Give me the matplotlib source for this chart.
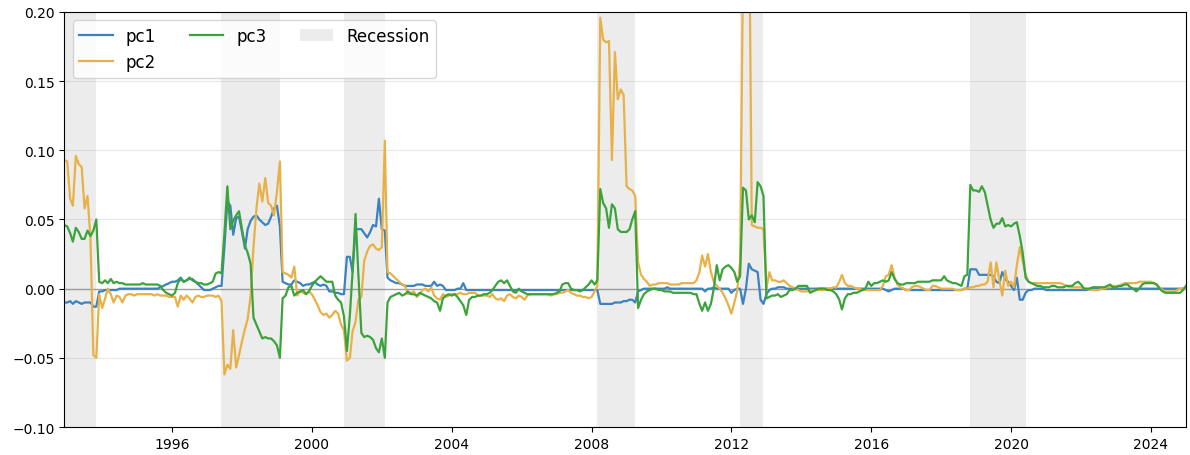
import matplotlib
matplotlib.use("Agg")
import matplotlib.pyplot as plt
import matplotlib.dates as mdates
import pandas as pd

# monthly principal component scores, 1992-12 .. 2025-01
pc1 = [
    -0.010,  # 1992-12
    -0.010, -0.009, -0.011, -0.009, -0.010, -0.011, -0.010, -0.010, -0.010, -0.013, -0.013, -0.002,  # 1993
    -0.002, -0.001, -0.001, -0.001, -0.001, -0.001, 0.000, 0.000, 0.000, 0.000, 0.000, 0.000,  # 1994
    0.000, 0.000, 0.000, 0.000, 0.000, 0.000, 0.000, 0.000, 0.001, 0.002, 0.003, 0.004,  # 1995
    0.005, 0.005, 0.006, 0.008, 0.005, 0.006, 0.007, 0.007, 0.005, 0.003, 0.001, -0.001,  # 1996
    -0.001, -0.001, 0.000, 0.001, 0.002, 0.002, 0.030, 0.063, 0.060, 0.039, 0.051, 0.052,  # 1997
    0.041, 0.029, 0.043, 0.049, 0.052, 0.053, 0.050, 0.048, 0.046, 0.047, 0.052, 0.058,  # 1998
    0.060, 0.045, 0.005, 0.004, 0.003, 0.003, 0.006, 0.005, 0.004, 0.002, 0.003, 0.003,  # 1999
    0.004, 0.005, 0.003, 0.002, 0.003, 0.002, -0.002, -0.002, -0.003, -0.003, -0.004, -0.004,  # 2000
    0.023, 0.023, 0.012, 0.043, 0.043, 0.043, 0.040, 0.037, 0.041, 0.046, 0.045, 0.065,  # 2001
    0.043, 0.042, 0.008, 0.006, 0.005, 0.004, 0.004, 0.003, 0.002, 0.002, 0.002, 0.002,  # 2002
    0.003, 0.003, 0.003, 0.002, 0.002, 0.002, 0.005, 0.002, 0.003, 0.002, -0.001, -0.001,  # 2003
    -0.001, -0.001, 0.000, 0.000, 0.004, -0.001, -0.001, -0.001, -0.001, -0.001, -0.001, -0.001,  # 2004
    -0.001, -0.001, -0.001, -0.001, -0.001, -0.001, -0.001, -0.001, -0.001, -0.001, -0.001, -0.001,  # 2005
    -0.001, -0.001, -0.001, -0.001, -0.001, -0.001, -0.001, -0.001, -0.001, -0.001, -0.001, -0.001,  # 2006
    -0.001, -0.001, -0.001, -0.001, -0.001, -0.001, -0.001, -0.001, -0.001, -0.001, -0.001, -0.001,  # 2007
    -0.001, -0.001, -0.001, -0.011, -0.011, -0.011, -0.011, -0.011, -0.010, -0.010, -0.010, -0.009,  # 2008
    -0.009, -0.008, -0.008, -0.010, -0.002, -0.001, 0.000, 0.000, 0.000, 0.000, 0.000, 0.000,  # 2009
    0.000, 0.000, 0.001, 0.000, 0.000, 0.000, 0.000, 0.000, 0.000, 0.000, 0.000, 0.000,  # 2010
    0.000, 0.000, 0.000, -0.002, 0.000, 0.000, 0.001, 0.000, 0.000, 0.000, 0.000, 0.000,  # 2011
    -0.003, -0.001, 0.000, 0.000, -0.011, 0.000, 0.018, 0.014, 0.013, 0.012, -0.008, -0.011,  # 2012
    -0.004, -0.001, 0.000, 0.000, 0.001, 0.001, 0.001, 0.000, 0.000, 0.000, 0.000, 0.000,  # 2013
    0.000, 0.000, 0.000, 0.000, 0.000, 0.000, 0.000, 0.000, 0.000, 0.000, 0.000, 0.000,  # 2014
    0.000, 0.000, 0.000, 0.000, 0.000, 0.000, 0.000, 0.000, 0.000, 0.000, 0.000, 0.000,  # 2015
    0.000, 0.000, 0.000, 0.000, 0.000, -0.001, -0.002, -0.001, 0.000, 0.000, 0.000, 0.000,  # 2016
    -0.001, -0.001, -0.001, -0.001, -0.001, -0.001, -0.001, -0.001, -0.001, -0.001, -0.001, -0.001,  # 2017
    -0.001, -0.001, -0.001, -0.001, -0.001, -0.001, -0.001, -0.001, 0.000, 0.000, 0.014, 0.014,  # 2018
    0.014, 0.010, 0.010, 0.010, 0.010, 0.010, 0.009, 0.005, 0.004, 0.012, 0.007, 0.005,  # 2019
    0.002, -0.001, 0.008, -0.008, -0.008, -0.003, -0.001, -0.001, 0.000, 0.000, 0.000, 0.000,  # 2020
    -0.001, -0.001, -0.001, -0.001, -0.001, -0.001, -0.001, -0.001, -0.001, -0.001, -0.001, -0.001,  # 2021
    -0.001, -0.001, -0.001, 0.000, 0.000, 0.000, 0.000, 0.000, 0.000, 0.000, 0.000, 0.000,  # 2022
    0.000, 0.000, 0.000, 0.000, 0.000, 0.000, 0.000, 0.000, 0.000, 0.000, 0.000, 0.000,  # 2023
    0.000, 0.000, 0.000, 0.000, 0.000, 0.000, 0.000, 0.000, 0.000, 0.000, 0.000, 0.000,  # 2024
    0.000,  # 2025-01
]

pc2 = [
    0.093,  # 1992-12
    0.092, 0.065, 0.060, 0.096, 0.090, 0.088, 0.058, 0.067, 0.036, -0.048, -0.050, -0.004,  # 1993
    -0.014, -0.007, 0.000, -0.004, -0.010, -0.005, -0.006, -0.010, -0.005, -0.004, -0.004, -0.005,  # 1994
    -0.004, -0.004, -0.004, -0.004, -0.004, -0.004, -0.005, -0.004, -0.005, -0.005, -0.005, -0.006,  # 1995
    -0.006, -0.006, -0.013, -0.005, -0.008, -0.005, -0.007, -0.010, -0.006, -0.005, -0.006, -0.006,  # 1996
    -0.005, -0.005, -0.005, -0.006, -0.005, -0.009, -0.062, -0.055, -0.058, -0.030, -0.057, -0.048,  # 1997
    -0.038, -0.029, -0.022, -0.005, 0.030, 0.058, 0.076, 0.063, 0.080, 0.062, 0.060, 0.053,  # 1998
    0.070, 0.092, 0.012, 0.011, 0.010, 0.008, 0.016, -0.005, -0.002, -0.003, -0.004, -0.002,  # 1999
    -0.004, -0.008, -0.012, -0.017, -0.019, -0.018, -0.021, -0.019, -0.016, -0.018, -0.026, -0.030,  # 2000
    -0.052, -0.050, -0.031, -0.024, -0.008, -0.006, 0.020, 0.027, 0.031, 0.032, 0.029, 0.028,  # 2001
    0.030, 0.107, 0.012, 0.011, 0.009, 0.007, 0.005, 0.003, 0.002, -0.004, -0.003, -0.002,  # 2002
    -0.006, -0.004, -0.001, 0.000, -0.002, 0.001, -0.005, -0.007, -0.008, -0.004, -0.006, -0.005,  # 2003
    -0.004, -0.004, -0.004, -0.003, -0.004, -0.004, -0.003, -0.003, -0.003, -0.005, -0.005, -0.005,  # 2004
    -0.005, -0.006, -0.004, -0.007, -0.008, -0.007, -0.009, -0.005, -0.004, -0.006, -0.007, -0.005,  # 2005
    -0.006, -0.008, -0.005, -0.004, -0.004, -0.004, -0.004, -0.004, -0.004, -0.004, -0.005, -0.004,  # 2006
    -0.004, -0.003, -0.003, -0.002, -0.001, -0.003, -0.004, -0.005, -0.005, -0.006, -0.006, -0.007,  # 2007
    -0.006, -0.002, 0.002, 0.196, 0.180, 0.178, 0.179, 0.093, 0.171, 0.137, 0.144, 0.140,  # 2008
    0.074, 0.072, 0.071, 0.067, 0.019, 0.010, 0.007, 0.005, 0.002, 0.003, 0.003, 0.004,  # 2009
    0.004, 0.004, 0.004, 0.003, 0.003, 0.003, 0.003, 0.004, 0.004, 0.004, 0.004, 0.004,  # 2010
    0.006, 0.012, 0.024, 0.016, 0.025, 0.012, 0.005, 0.002, 0.000, -0.003, -0.007, -0.012,  # 2011
    -0.018, -0.010, -0.002, 0.020, 0.230, 0.260, 0.300, 0.046, 0.045, 0.044, 0.044, 0.043,  # 2012
    0.000, 0.012, 0.006, 0.006, 0.005, 0.005, 0.006, 0.004, 0.002, 0.001, 0.000, -0.001,  # 2013
    -0.002, -0.002, -0.002, -0.001, -0.001, -0.001, -0.001, -0.001, -0.001, 0.000, 0.000, 0.001,  # 2014
    0.001, 0.005, 0.010, 0.004, 0.002, 0.002, 0.001, 0.000, 0.000, -0.001, -0.001, -0.001,  # 2015
    -0.001, -0.001, -0.001, -0.001, 0.002, 0.009, 0.010, 0.017, 0.008, 0.003, 0.001, 0.000,  # 2016
    -0.001, -0.001, 0.001, 0.002, 0.002, 0.001, 0.000, -0.001, -0.001, 0.002, 0.002, 0.001,  # 2017
    0.000, 0.000, 0.000, 0.000, 0.000, -0.001, -0.001, -0.001, 0.000, 0.000, 0.001, 0.001,  # 2018
    0.002, 0.002, 0.003, 0.003, 0.005, 0.019, 0.001, 0.019, 0.006, -0.005, 0.013, 0.002,  # 2019
    0.005, 0.001, 0.017, 0.030, 0.020, 0.010, 0.005, 0.004, 0.004, 0.004, 0.004, 0.004,  # 2020
    0.004, 0.004, 0.004, 0.004, 0.004, 0.004, 0.003, 0.002, 0.001, 0.001, 0.001, 0.001,  # 2021
    0.001, 0.000, 0.000, -0.001, -0.001, -0.001, -0.001, 0.000, 0.000, 0.001, 0.001, 0.002,  # 2022
    0.002, 0.002, 0.003, 0.004, 0.004, 0.004, 0.004, 0.004, 0.005, 0.005, 0.005, 0.005,  # 2023
    0.005, 0.004, 0.003, 0.001, -0.001, -0.002, -0.002, -0.002, -0.002, -0.001, 0.000, 0.000,  # 2024
    0.000,  # 2025-01
]

pc3 = [
    0.046,  # 1992-12
    0.045, 0.040, 0.034, 0.044, 0.041, 0.036, 0.036, 0.042, 0.038, 0.042, 0.050, 0.005,  # 1993
    0.004, 0.006, 0.004, 0.007, 0.004, 0.005, 0.004, 0.004, 0.003, 0.003, 0.003, 0.003,  # 1994
    0.003, 0.003, 0.004, 0.003, 0.003, 0.003, 0.003, 0.003, 0.002, -0.001, -0.003, -0.004,  # 1995
    -0.005, -0.003, 0.004, 0.007, 0.005, 0.006, 0.008, 0.006, 0.005, 0.004, 0.004, 0.003,  # 1996
    0.003, 0.004, 0.005, 0.011, 0.012, 0.011, 0.040, 0.074, 0.043, 0.049, 0.053, 0.056,  # 1997
    0.043, 0.031, 0.026, 0.018, -0.021, -0.026, -0.031, -0.036, -0.035, -0.036, -0.036, -0.038,  # 1998
    -0.041, -0.050, -0.007, -0.005, 0.001, 0.002, -0.005, -0.003, -0.002, -0.001, -0.004, -0.002,  # 1999
    0.002, 0.005, 0.007, 0.009, 0.007, 0.005, 0.005, 0.005, -0.005, -0.008, -0.010, -0.020,  # 2000
    -0.045, -0.019, 0.012, 0.054, 0.010, -0.032, -0.035, -0.034, -0.035, -0.037, -0.043, -0.046,  # 2001
    -0.036, -0.050, -0.010, -0.006, -0.005, -0.004, -0.003, -0.005, -0.004, -0.002, -0.004, -0.004,  # 2002
    -0.005, -0.003, -0.004, -0.005, -0.006, -0.007, -0.009, -0.010, -0.016, -0.007, -0.005, -0.004,  # 2003
    -0.005, -0.004, -0.006, -0.009, -0.012, -0.019, -0.008, -0.006, -0.006, -0.005, -0.005, -0.004,  # 2004
    -0.004, -0.003, -0.001, 0.002, 0.005, 0.006, 0.004, 0.006, 0.002, -0.002, -0.003, 0.000,  # 2005
    -0.002, -0.003, -0.004, -0.004, -0.004, -0.004, -0.004, -0.004, -0.004, -0.004, -0.004, -0.004,  # 2006
    -0.003, -0.002, 0.003, 0.004, 0.004, 0.000, -0.001, -0.001, -0.002, -0.001, 0.001, 0.003,  # 2007
    0.006, 0.003, 0.006, 0.072, 0.062, 0.058, 0.044, 0.061, 0.058, 0.043, 0.041, 0.041,  # 2008
    0.041, 0.043, 0.050, 0.056, -0.014, -0.008, -0.004, -0.002, -0.001, 0.000, 0.000, -0.001,  # 2009
    -0.001, -0.002, -0.002, -0.002, -0.003, -0.003, -0.003, -0.003, -0.003, -0.003, -0.003, -0.004,  # 2010
    -0.004, -0.011, -0.016, -0.010, -0.016, -0.011, 0.000, 0.017, 0.006, 0.014, 0.016, 0.017,  # 2011
    0.015, 0.012, 0.005, 0.009, 0.073, 0.071, 0.050, 0.053, 0.048, 0.077, 0.074, 0.067,  # 2012
    -0.007, -0.006, -0.005, -0.005, -0.004, -0.006, -0.005, -0.004, -0.001, -0.001, 0.000, 0.002,  # 2013
    0.002, 0.002, 0.002, -0.003, -0.002, -0.001, 0.000, 0.000, 0.000, -0.001, -0.001, -0.002,  # 2014
    -0.004, -0.008, -0.015, -0.007, -0.004, -0.004, -0.003, -0.003, -0.002, -0.001, 0.000, 0.005,  # 2015
    0.002, 0.004, 0.004, 0.005, 0.006, 0.005, 0.006, 0.012, 0.007, 0.004, 0.003, 0.003,  # 2016
    0.004, 0.004, 0.004, 0.004, 0.005, 0.005, 0.005, 0.005, 0.005, 0.006, 0.006, 0.006,  # 2017
    0.006, 0.009, 0.006, 0.005, 0.004, 0.004, 0.003, 0.002, 0.009, 0.010, 0.075, 0.071,  # 2018
    0.071, 0.070, 0.074, 0.070, 0.060, 0.050, 0.044, 0.047, 0.047, 0.051, 0.045, 0.046,  # 2019
    0.045, 0.047, 0.048, 0.038, 0.026, 0.008, 0.005, 0.004, 0.003, 0.002, 0.002, 0.001,  # 2020
    0.001, 0.001, 0.002, 0.002, 0.001, 0.001, 0.001, 0.002, 0.002, 0.002, 0.004, 0.005,  # 2021
    0.003, 0.000, 0.000, 0.000, 0.001, 0.001, 0.001, 0.001, 0.001, 0.002, 0.003, 0.001,  # 2022
    0.001, 0.002, 0.002, 0.003, 0.003, 0.001, 0.000, -0.002, 0.000, 0.003, 0.004, 0.004,  # 2023
    0.004, 0.004, 0.003, 0.000, -0.002, -0.003, -0.003, -0.003, -0.003, -0.003, -0.003, -0.001,  # 2024
    0.002,  # 2025-01
]

# recession periods (peak month end, trough month end)
recessions = [
    ("1991-02-28", "1993-10-31"),
    ("1997-05-31", "1999-01-31"),
    ("2000-11-30", "2002-01-31"),
    ("2008-02-29", "2009-03-31"),
    ("2012-03-31", "2012-11-30"),
    ("2018-10-31", "2020-05-31"),
]

dates = pd.date_range("1992-12-01", periods=len(pc1), freq="MS")

fig, ax = plt.subplots(figsize=(11.9, 4.56), dpi=100)
fig.subplots_adjust(left=0.054, right=0.9966, top=0.9715, bottom=0.0614)

spans = []
for start, end in recessions:
    spans.append(ax.axvspan(pd.Timestamp(start), pd.Timestamp(end),
                            color="grey", alpha=0.15, lw=0))

l1, = ax.plot(dates, pc1, color="#3a82c0", lw=1.6)
l2, = ax.plot(dates, pc2, color="#e8b148", lw=1.6)
l3, = ax.plot(dates, pc3, color="#3ba33b", lw=1.6)
ax.axhline(0, color="grey", lw=1, alpha=0.8, zorder=1.5)

ax.grid(axis="y", alpha=0.3)
ax.set_xlim(dates[0], dates[-1])
ax.set_ylim(-0.10, 0.20)
ax.xaxis.set_major_locator(mdates.YearLocator(4))
ax.xaxis.set_major_formatter(mdates.DateFormatter("%Y"))

ax.legend([l1, l2, l3, spans[0]], ["pc1", "pc2", "pc3", "Recession"],
          loc="upper left", ncol=3, fontsize=12)

fig.savefig("out.png", dpi=100)
